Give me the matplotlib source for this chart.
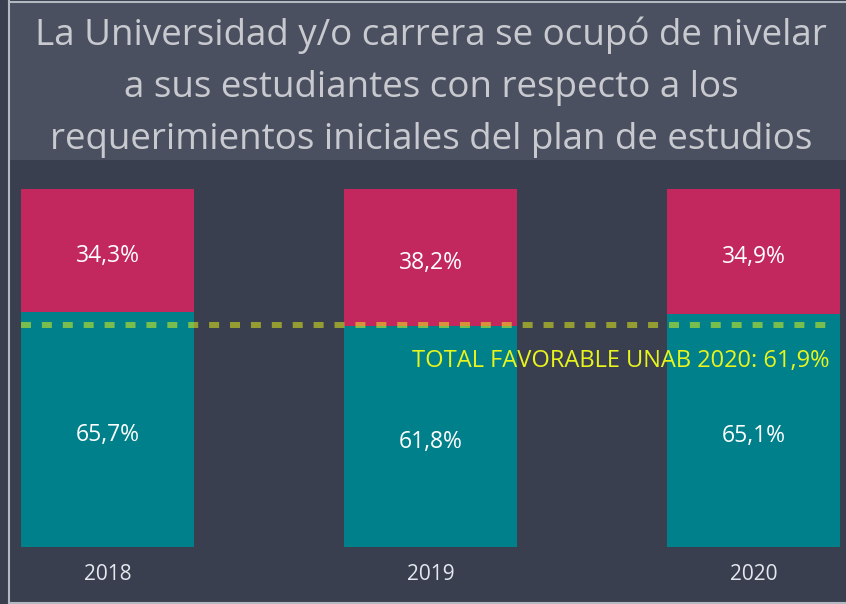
import numpy as np
import matplotlib.pyplot as plt
from matplotlib.patches import Rectangle
from matplotlib.lines import Line2D

plt.rcParams['font.family'] = ['Open Sans', 'DejaVu Sans']

years = ['2018', '2019', '2020']
favorable = [65.7, 61.8, 65.1]
unfavorable = [34.3, 38.2, 34.9]
total_unab_2020 = 61.9

bg = '#3a3f50'
panel = '#4a5060'
teal = '#00808a'
magenta = '#c2285e'

fig = plt.figure(figsize=(8.46, 6.04), dpi=100, facecolor=bg)
W, H = 846, 604

# title panel and frame lines
fig.patches.append(Rectangle((10 / W, 1 - 160 / H), 1, 158 / H, transform=fig.transFigure,
                             facecolor=panel, edgecolor='none', zorder=0))
for xs, ys in [([9 / W, 9 / W], [0, 1]), ([9 / W, 1], [1 - 1.5 / H, 1 - 1.5 / H]),
               ([9 / W, 1], [1.5 / H, 1.5 / H])]:
    fig.add_artist(Line2D(xs, ys, transform=fig.transFigure, color='#b4b8c0', lw=1.5))

fig.text(431 / W, 1 - 87 / H,
         'La Universidad y/o carrera se ocupó de nivelar\n'
         'a sus estudiantes con respecto a los\n'
         'requerimientos iniciales del plan de estudios',
         ha='center', va='center', fontsize=26.5, color='#c8cacf', linespacing=1.6)

ax = fig.add_axes([21 / W, 1 - 547 / H, (840 - 21) / W, (547 - 189) / H])
ax.set_facecolor(bg)
x = np.arange(len(years))
width = 0.536
ax.bar(x, favorable, width, color=teal)
ax.bar(x, unfavorable, width, bottom=favorable, color=magenta)

# value labels, nudged a touch below the segment centre
for i in range(len(years)):
    ax.text(x[i], favorable[i] / 2 - 0.8, f'{favorable[i]:.1f}%'.replace('.', ','),
            ha='center', va='center_baseline', color='white', fontsize=16.5)
    ax.text(x[i], favorable[i] + unfavorable[i] / 2 - 0.6, f'{unfavorable[i]:.1f}%'.replace('.', ','),
            ha='center', va='center_baseline', color='white', fontsize=16.5)

ax.plot([-0.268, 2.235], [total_unab_2020, total_unab_2020], color='#f0fc16', alpha=0.5,
        lw=4.3, ls=(0, (1.67, 1.83)), solid_capstyle='butt', dash_capstyle='butt')
ax.text(2.235, total_unab_2020 - 9,
        f'TOTAL FAVORABLE UNAB 2020: {total_unab_2020:.1f}%'.replace('.', ','),
        ha='right', va='center_baseline', color='#e8f51c', fontsize=17)

ax.set_xlim(-0.268, 2.268)
ax.set_ylim(0, 100)
ax.set_xticks(x)
ax.set_xticklabels(years)
ax.tick_params(axis='x', length=0, pad=12, labelsize=15, labelcolor='#e4e7ee')
ax.set_yticks([])
for s in ax.spines.values():
    s.set_visible(False)

fig.savefig('out.png', dpi=100, facecolor=bg)
